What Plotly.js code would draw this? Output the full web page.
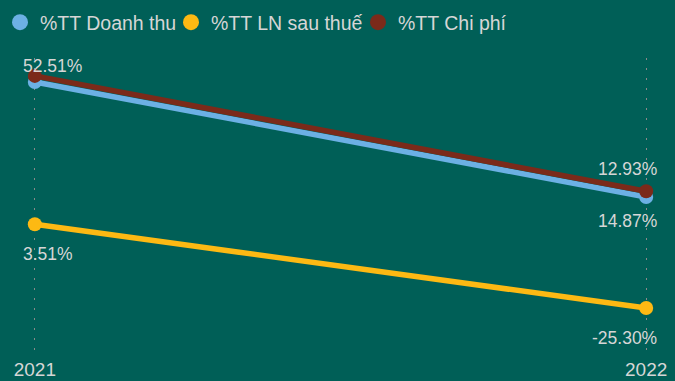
<!DOCTYPE html>
<html>
<head>
<meta charset="utf-8">
<script src="https://cdn.plot.ly/plotly-3.0.1.min.js"></script>
<style>html,body{margin:0;padding:0;background:#005f57;}#chart{width:675px;height:381px;}</style>
</head>
<body>
<div id="chart"></div>
<script>
// ---- data ----
var years = ['2021', '2022'];
var seriesNames = ['%TT Doanh thu', '%TT LN sau thuế', '%TT Chi phí'];
var doanhThu = [52.51, 12.93];
var lnSauThue = [3.51, -25.30];
var chiPhi = [54.6, 14.87];
var chiPhiLabelShown = [false, true];

// ---- style ----
var colors = ['#6cb0e4', '#fdb913', '#7b2a1a'];
var bg = '#005f57';
var txt = '#d6d6d6';
var font = 'Liberation Sans, Arial, sans-serif';

var seriesVals = [doanhThu, lnSauThue, chiPhi];
var legendIds = ['legend', 'legend2', 'legend3'];
var legendX = [0, 171, 358];   // px, left edge of each legend box
var traces = [];
seriesVals.forEach(function (vals, i) {
  traces.push({
    x: years, y: vals, type: 'scatter', mode: 'lines+markers',
    line: {color: colors[i], width: 5.5},
    marker: {color: colors[i], size: 14},
    cliponaxis: false, showlegend: false, hoverinfo: 'skip'
  });
});
// legend-only marker entries
seriesNames.forEach(function (n, i) {
  traces.push({
    x: [null], y: [null], type: 'scatter', mode: 'markers', name: n,
    legend: legendIds[i],
    marker: {color: colors[i], size: 17}
  });
});

// label placement per series: px shift (up positive) for each year
var labelShift = [[15.5, 28], [-30, -30], [-30, -30]];
var shown = [[true, true], [true, true], chiPhiLabelShown];
var annotations = [];
seriesVals.forEach(function (vals, i) {
  vals.forEach(function (v, j) {
    if (!shown[i][j]) return;
    annotations.push({
      x: j, y: v, xref: 'x', yref: 'y',
      text: v.toFixed(2) + '%', showarrow: false,
      xanchor: j === 0 ? 'left' : 'right', yanchor: 'middle',
      xshift: j === 0 ? -14 : 13, yshift: labelShift[i][j],
      font: {family: font, size: 17.5, color: txt}
    });
  });
});

var layout = {
  width: 675, height: 381,
  paper_bgcolor: bg, plot_bgcolor: bg,
  margin: {l: 33, r: 27, t: 58, b: 25},
  font: {family: font, color: txt},
  showlegend: true,
  xaxis: {type: 'category', range: [-0.003, 1.003], showgrid: true, gridcolor: '#8a8a8a',
    griddash: '2px,8px', gridwidth: 1, zeroline: false, showline: false, ticks: '',
    tickfont: {family: font, size: 19, color: txt}, fixedrange: true},
  yaxis: {range: [-41.82, 60.76], showgrid: false, zeroline: false, showline: false,
    showticklabels: false, ticks: '', fixedrange: true},
  annotations: annotations
};
legendIds.forEach(function (id, i) {
  layout[id] = {orientation: 'h', x: legendX[i] / 675, xref: 'container', y: 1 - 3 / 381, yref: 'container',
    xanchor: 'left', yanchor: 'top', font: {family: font, size: 19.5, color: txt},
    bgcolor: 'rgba(0,0,0,0)'};
});

Plotly.newPlot('chart', traces, layout, {displayModeBar: false, staticPlot: true});
</script>
</body>
</html>
